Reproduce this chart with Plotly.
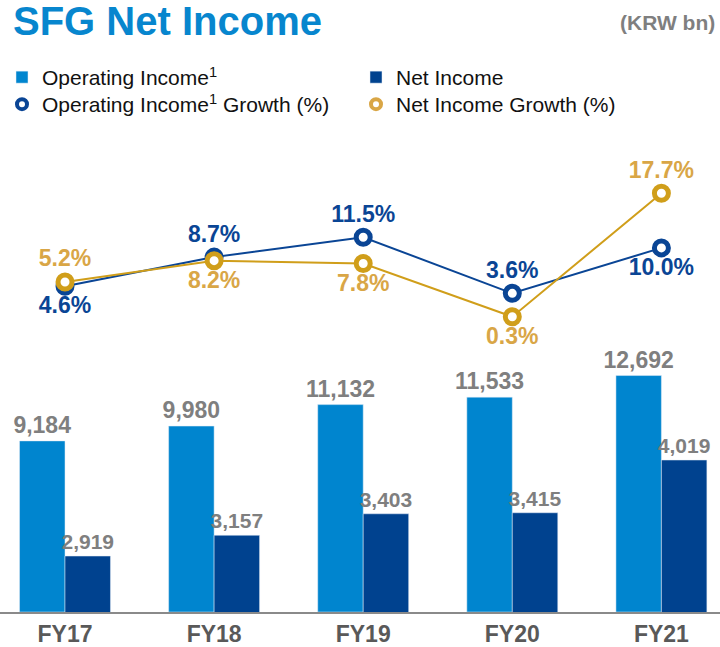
import plotly.graph_objects as go

categories = ["FY17", "FY18", "FY19", "FY20", "FY21"]
operating_income = [9184, 9980, 11132, 11533, 12692]
net_income = [2919, 3157, 3403, 3415, 4019]
op_growth = [4.6, 8.7, 11.5, 3.6, 10.0]
net_growth = [5.2, 8.2, 7.8, 0.3, 17.7]
op_growth_pos = ["bottom center", "top center", "top center", "top center", "bottom center"]
net_growth_pos = ["top center", "bottom center", "bottom center", "bottom center", "top center"]

C_OP = "#0085CF"
C_NET = "#00428F"
C_BLUE_LINE = "#0A4595"
C_GOLD_LINE = "#D09E1A"
C_GOLD_TEXT = "#D9A646"
C_GRAY = "#7F7F7F"
FONT = "Liberation Sans, Arial, sans-serif"

fig = go.Figure()
fig.add_trace(go.Bar(
    x=categories, y=operating_income, name="Operating Income<sup>1</sup>",
    marker_color=C_OP, offsetgroup="1", yaxis="y", legend="legend",
    text=[f"{v:,}" for v in operating_income], textposition="outside",
    textfont=dict(family=FONT, size=23, color=C_GRAY, weight="bold"),
    constraintext="none", cliponaxis=False,
))
fig.add_trace(go.Bar(
    x=categories, y=net_income, name="Net Income",
    marker_color=C_NET, offsetgroup="2", yaxis="y2", legend="legend",
    text=[f"{v:,}" for v in net_income], textposition="outside",
    textfont=dict(family=FONT, size=21, color=C_GRAY, weight="bold"),
    constraintext="none", cliponaxis=False,
))
fig.add_trace(go.Scatter(
    x=categories, y=op_growth, yaxis="y3", mode="lines+markers+text",
    line=dict(color=C_BLUE_LINE, width=2),
    marker=dict(size=14, color="white", line=dict(color=C_BLUE_LINE, width=5)),
    text=[f"{v:.1f}%" for v in op_growth], textposition=op_growth_pos,
    textfont=dict(family=FONT, size=23, color=C_BLUE_LINE, weight="bold"),
    showlegend=False, cliponaxis=False,
))
fig.add_trace(go.Scatter(
    x=categories, y=net_growth, yaxis="y3", mode="lines+markers+text",
    line=dict(color=C_GOLD_LINE, width=2),
    marker=dict(size=14, color="white", line=dict(color=C_GOLD_LINE, width=5)),
    text=[f"{v:.1f}%" for v in net_growth], textposition=net_growth_pos,
    textfont=dict(family=FONT, size=23, color=C_GOLD_TEXT, weight="bold"),
    showlegend=False, cliponaxis=False,
))
# legend-only entries for the growth series
fig.add_trace(go.Scatter(
    x=[None], y=[None], yaxis="y3", mode="markers", legend="legend2",
    name="Operating Income<sup>1</sup> Growth (%)",
    marker=dict(size=10, color="white", line=dict(color=C_BLUE_LINE, width=4)),
))
fig.add_trace(go.Scatter(
    x=[None], y=[None], yaxis="y3", mode="markers", legend="legend2",
    name="Net Income Growth (%)",
    marker=dict(size=10, color="white", line=dict(color=C_GOLD_TEXT, width=4)),
))

legend_common = dict(
    orientation="h", x=2 / 720, xanchor="left", xref="paper",
    yref="container", yanchor="top",
    entrywidth=309, entrywidthmode="pixels",
    font=dict(family=FONT, size=21, color="#111111"),
    bgcolor="rgba(0,0,0,0)", itemsizing="trace",
)

fig.update_layout(
    width=720, height=647,
    margin=dict(l=0, r=0, t=140, b=35),
    paper_bgcolor="white", plot_bgcolor="white",
    barmode="group", bargap=0.39, bargroupgap=0,
    font=dict(family=FONT),
    showlegend=True,
    legend=dict(legend_common, y=1 - 57 / 647),
    legend2=dict(legend_common, y=1 - 84 / 647),
    title=dict(
        text="<b>SFG Net Income</b>", x=13 / 720, xanchor="left", xref="container",
        y=1 - 21 / 647, yanchor="middle", yref="container",
        font=dict(family=FONT, size=40, color="#0786CE"),
    ),
    xaxis=dict(
        type="category", range=[-0.436, 4.393],
        showline=True, linecolor="#8A8A8A", linewidth=2,
        ticks="", showgrid=False, zeroline=False,
        tickfont=dict(family=FONT, size=23, color="#595959", weight="bold"),
    ),
    yaxis=dict(range=[0, 25335], visible=False, showgrid=False),
    yaxis2=dict(range=[2278, 7685], visible=False, overlaying="y", showgrid=False),
    yaxis3=dict(range=[-41.3, 25.2], visible=False, overlaying="y", showgrid=False),
    annotations=[dict(
        text="<b>(KRW bn)</b>", xref="paper", yref="paper",
        x=717 / 720, xanchor="right", y=1 + (140 - 22) / 472, yanchor="middle",
        showarrow=False, font=dict(family=FONT, size=21, color=C_GRAY),
    )],
)

fig.write_html(
    "out.html",
    config={"displayModeBar": False},
    post_script="document.body.style.margin='0px';document.body.style.overflow='hidden';",
)
